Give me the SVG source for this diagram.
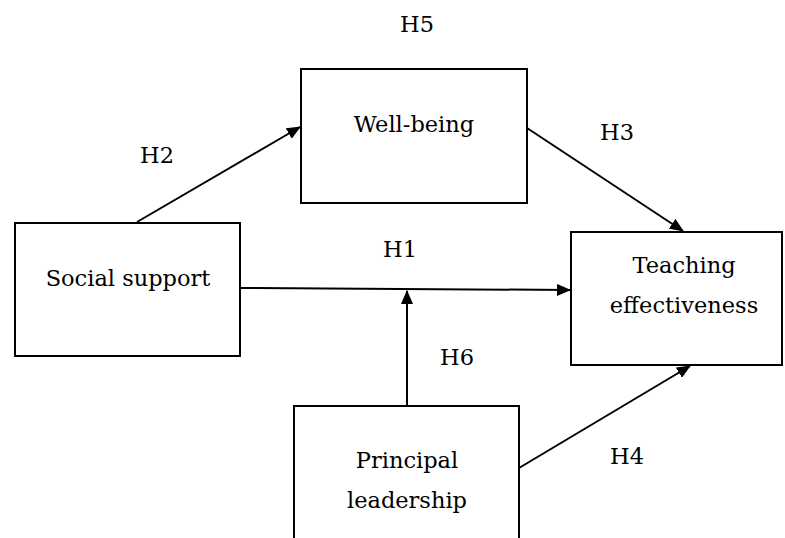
<svg xmlns="http://www.w3.org/2000/svg" width="785" height="538" viewBox="0 0 785 538">
<style>
.box{fill:#fff;stroke:#000;stroke-width:2}
.t{font-family:"DejaVu Serif",serif;font-size:22.5px;fill:#000;text-anchor:middle}
.c{stroke:#000;stroke-width:2;fill:none;marker-end:url(#ah)}
</style>
<defs>
<marker id="ah" markerWidth="14" markerHeight="12" refX="13" refY="6" orient="auto" markerUnits="userSpaceOnUse">
<path d="M0,0 L14,6 L0,12 Z" fill="#000"/>
</marker>
</defs>
<rect width="785" height="538" fill="#fff"/>
<g id="connectors">
<line class="c" x1="137" y1="222" x2="300" y2="127"/>
<line class="c" x1="527" y1="128" x2="683" y2="231"/>
<line class="c" x1="240" y1="288" x2="570" y2="290"/>
<line class="c" x1="407" y1="406" x2="407" y2="291"/>
<line class="c" x1="519" y1="468" x2="690" y2="366"/>
</g>
<g id="labels">
<text class="t" x="417" y="32">H5</text>
<text class="t" x="157" y="163">H2</text>
<text class="t" x="617" y="140">H3</text>
<text class="t" x="400" y="257">H1</text>
<text class="t" x="457" y="365">H6</text>
<text class="t" x="627" y="464">H4</text>
</g>
<g id="social-support">
<rect class="box" x="15" y="223" width="225" height="133"/>
<text class="t" x="128" y="286">Social support</text>
</g>
<g id="well-being">
<rect class="box" x="301" y="69" width="226" height="134"/>
<text class="t" x="414" y="132">Well-being</text>
</g>
<g id="teaching-effectiveness">
<rect class="box" x="571" y="232" width="211" height="133"/>
<text class="t" x="684" y="273">Teaching</text>
<text class="t" x="684" y="313">effectiveness</text>
</g>
<g id="principal-leadership">
<path class="box" d="M294,540 L294,406 L519,406 L519,540"/>
<text class="t" x="407" y="468">Principal</text>
<text class="t" x="407" y="508">leadership</text>
</g>
</svg>
